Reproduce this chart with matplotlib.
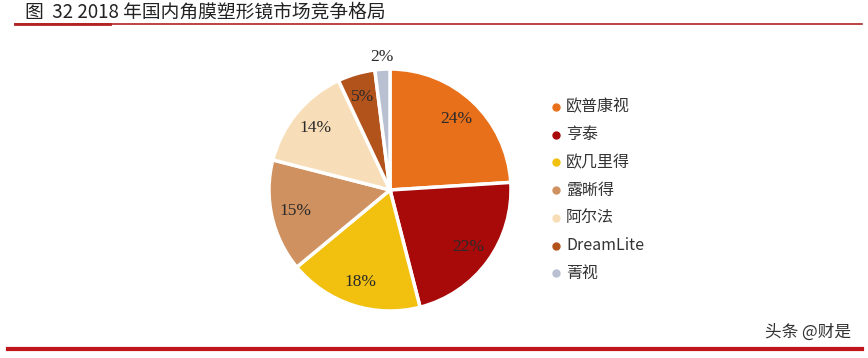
import matplotlib
matplotlib.use("Agg")
import matplotlib.pyplot as plt
import numpy as np

plt.rcParams['font.family'] = ['Noto Sans CJK SC', 'DejaVu Sans']

# data
brands = ['欧普康视', '亨泰', '欧几里得', '露晰得', '阿尔法', 'DreamLite', '菁视']
shares = [24, 22, 18, 15, 14, 5, 2]
colors = ['#E8701A', '#A80A0A', '#F2C00F', '#CF9160', '#F7DEB8', '#B3531C', '#B9C0D2']

W, H = 868, 358
fig = plt.figure(figsize=(W / 100, H / 100), dpi=100)
fig.patch.set_facecolor('white')

# title + rules
fig.text(25 / W, 1 - 12 / H, '图  32 2018 年国内角膜塑形镜市场竞争格局', fontsize=13.5,
         color='#222222', va='center', ha='left')
fig.add_artist(plt.Line2D([15 / W, 862 / W], [1 - 24 / H, 1 - 24 / H], color='#B22222', lw=1.2))
fig.add_artist(plt.Line2D([15 / W, 110 / W], [1 - 24 / H, 1 - 24 / H], color='#B22222', lw=2))
fig.add_artist(plt.Line2D([8 / W, 862 / W], [1 - 349 / H, 1 - 349 / H], color='#C0161B', lw=3))
fig.text(808 / W, 1 - 332 / H, '头条 @财是', fontsize=12, color='#333333', ha='center', va='center')

# pie
cx, cy, r = 390, 190, 121
ax = fig.add_axes([(cx - r) / W, 1 - (cy + r) / H, 2 * r / W, 2 * r / H])
wedges, _ = ax.pie(shares, colors=colors, startangle=90, counterclock=False, radius=1,
                   wedgeprops=dict(edgecolor='white', linewidth=2.5))
ax.set_xlim(-1, 1)
ax.set_ylim(-1, 1)
ax.set_aspect('equal')
ax.axis('off')

ang = 90.0
for w, s in zip(wedges, shares):
    mid = np.deg2rad(ang - s * 3.6 / 2)
    ang -= s * 3.6
    dist = 0.8 if s > 3 else 1.1
    ax.text(dist * np.cos(mid), dist * np.sin(mid), f'{s}%', ha='center', va='center',
            fontsize=12.5, family=['Liberation Serif'], color='#2a2a2a')

# legend
lx, ly0, dy = 556, 107, 27.7
for i, (b, c) in enumerate(zip(brands, colors)):
    y = 1 - (ly0 + i * dy) / H
    fig.add_artist(plt.Line2D([lx / W], [y], marker='o', ms=5, color=c, lw=0))
    fig.text((lx + 10) / W, y, b, fontsize=11.5, color='#333333', va='center', ha='left')

fig.savefig('out.png', dpi=100)
